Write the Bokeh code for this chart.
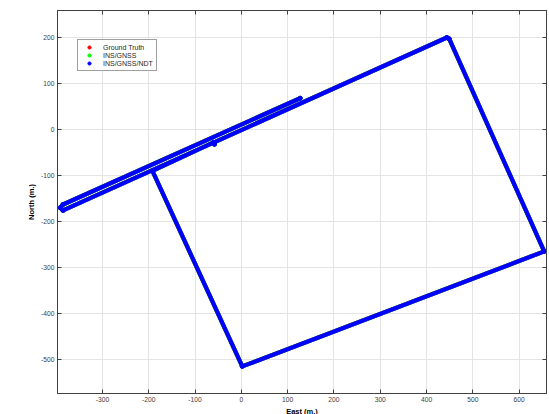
from bokeh.plotting import figure
from bokeh.models import Range1d, LinearAxis, FixedTicker, Legend, LegendItem, CustomJSTickFormatter
from bokeh.embed import file_html
from bokeh.resources import INLINE

# Trajectory waypoints (East, North) in metres
gt_east = [127, -385, -391, -385, 444, 449, 654, 2, -192, -60, -58]
gt_north = [68, -163, -170, -176, 200, 197, -265, -515, -90, -28, -32]

ins_gnss_east = [127, -385, -391, -385, 444, 449, 654, 2, -192, -60, -58]
ins_gnss_north = [68, -163, -170, -176, 200, 197, -265, -515, -90, -28, -32]

ndt_east = [127, -385, -391, -385, 444, 449, 654, 2, -192, -60, -58]
ndt_north = [68, -163, -170, -176, 200, 197, -265, -515, -90, -28, -32]

x_ticks = [-300, -200, -100, 0, 100, 200, 300, 400, 500, 600]
y_ticks = [-500, -400, -300, -200, -100, 0, 100, 200]

FONT = "Liberation Sans"
AX = "#404040"

p = figure(frame_width=489, frame_height=383,
           x_range=Range1d(-397, 659), y_range=Range1d(-574, 258.7),
           output_backend="svg", toolbar_location=None, title=None,
           min_border_left=57, min_border_right=3, min_border_top=10, min_border_bottom=19)
p.background_fill_color = "white"
p.border_fill_color = "white"
p.outline_line_color = AX
p.outline_line_width = 1

for ax, ticks, lab in ((p.xaxis[0], x_ticks, "East (m.)"), (p.yaxis[0], y_ticks, "North (m.)")):
    ax.ticker = FixedTicker(ticks=ticks)
    ax.major_label_overrides = {t: str(t) for t in ticks}
    ax.axis_label = lab
    ax.axis_label_text_font = FONT
    ax.axis_label_text_font_style = "bold"
    ax.axis_label_text_font_size = "7.5px"
    ax.axis_label_text_color = "#000000"
    ax.major_label_text_font = FONT
    ax.major_label_text_font_size = "6.7px"
    ax.major_label_text_color = "#404040"
    ax.major_tick_in = 4
    ax.major_tick_out = 0
    ax.minor_tick_line_color = None
    ax.axis_line_color = AX
    ax.major_tick_line_color = AX
    ax.major_label_standoff = 3
    ax.axis_label_standoff = 2

for loc, ticks in (("above", x_ticks), ("right", y_ticks)):
    a = LinearAxis(ticker=FixedTicker(ticks=ticks),
                   formatter=CustomJSTickFormatter(code="return ''"),
                   major_label_text_font_size="1px",
                   major_tick_in=4, major_tick_out=0, minor_tick_line_color=None,
                   axis_line_color=AX, major_tick_line_color=AX, major_label_standoff=0)
    p.add_layout(a, loc)

p.grid.grid_line_color = "#e4e4e4"
p.grid.grid_line_width = 1
p.xgrid.ticker = FixedTicker(ticks=x_ticks)
p.ygrid.ticker = FixedTicker(ticks=y_ticks)

lw = 4.2
p.line(gt_east, gt_north, line_color="#ff0000", line_width=lw, line_join="round", line_cap="round")
r_gt = p.scatter(gt_east, gt_north, size=4, color="#ff0000")
p.line(ins_gnss_east, ins_gnss_north, line_color="#00ff00", line_width=lw, line_join="round", line_cap="round")
r_ins = p.scatter(ins_gnss_east, ins_gnss_north, size=4, color="#00ff00")
p.line(ndt_east, ndt_north, line_color="#0000ff", line_width=lw, line_join="round", line_cap="round")
r_ndt = p.scatter(ndt_east, ndt_north, size=4, color="#0000ff")

legend = Legend(items=[LegendItem(label="Ground Truth", renderers=[r_gt]),
                       LegendItem(label="INS/GNSS", renderers=[r_ins]),
                       LegendItem(label="INS/GNSS/NDT", renderers=[r_ndt])],
                location=(20, 322))
legend.label_text_font = FONT
legend.label_text_font_size = "7px"
legend.label_text_color = "#262626"
legend.padding = 3
legend.margin = 0
legend.spacing = 0
legend.label_height = 8
legend.glyph_height = 8
legend.glyph_width = 16
legend.label_standoff = 6
legend.border_line_color = AX
legend.border_line_width = 1
legend.background_fill_color = "white"
p.add_layout(legend, "center")

open("out.html", "w").write(file_html(p, INLINE))
